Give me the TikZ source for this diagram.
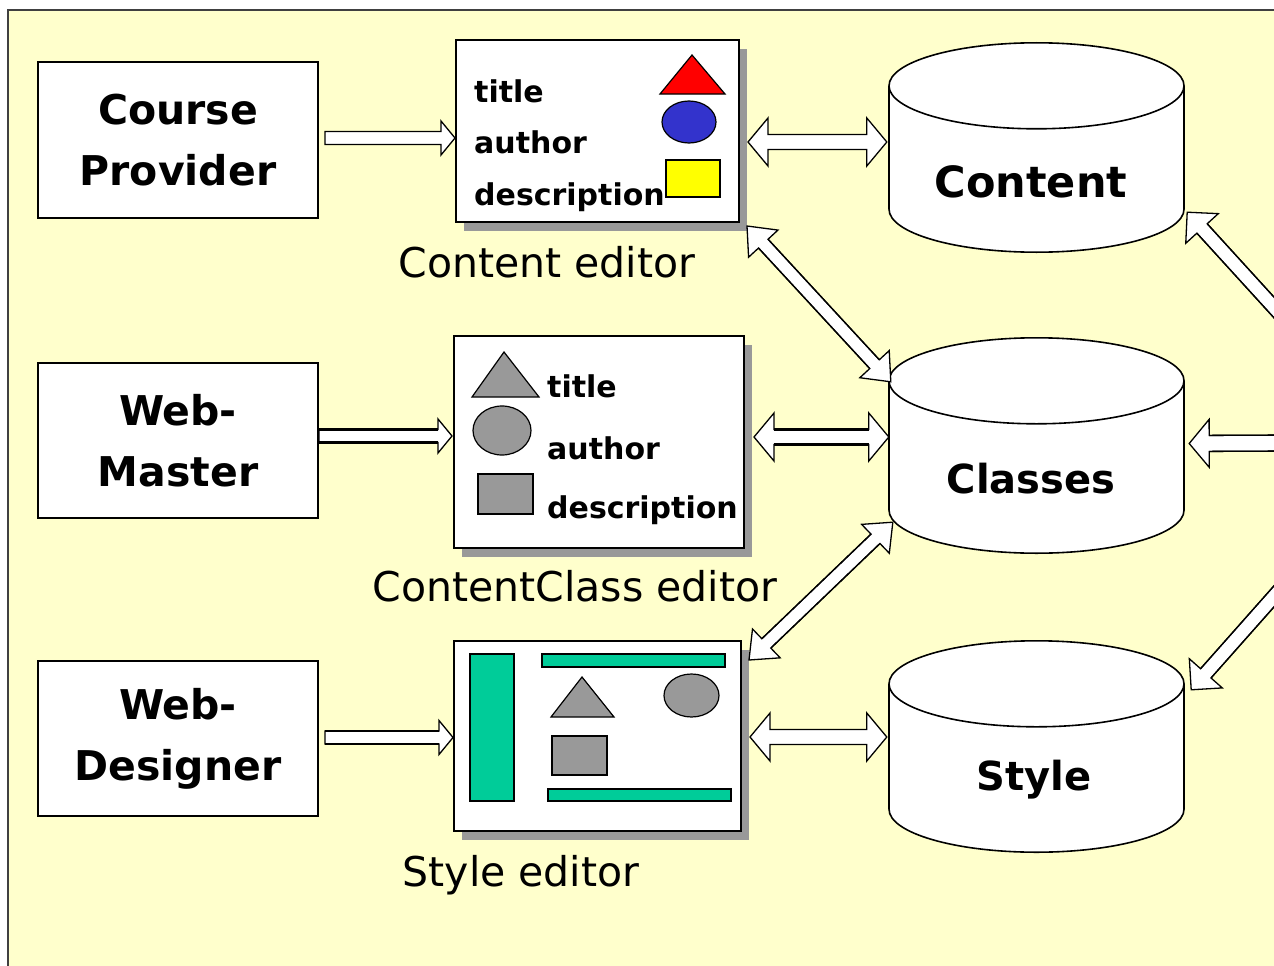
\documentclass[tikz,border=0pt]{standalone}
\usepackage{fontspec}
\setmainfont{DejaVu Sans}
\usetikzlibrary{calc,shadows}
\definecolor{bgyellow}{HTML}{FFFFCC}
\definecolor{shadowgray}{HTML}{999999}
\definecolor{shapegray}{HTML}{999999}
\definecolor{redtri}{HTML}{FF0000}
\definecolor{blueell}{HTML}{3333CC}
\definecolor{yellowrect}{HTML}{FFFF00}
\definecolor{greenbar}{HTML}{00CC99}
\definecolor{framegray}{HTML}{404040}

\newcommand\ash{7pt}\newcommand\ahh{20pt}\newcommand\ahl{20pt}
\newcommand\setarrow[3]{\def\ash{#1}\def\ahh{#2}\def\ahl{#3}}

\newcommand\singlearrow[3][]{%
  \coordinate (sa1) at (#2);
  \coordinate (sa2) at (#3);
  \coordinate (sam) at ($(sa2)!\ahl!(sa1)$);
  \draw[blk] ($(sa1)!\ash!90:(sa2)$) -- ($(sam)!\ash!-90:(sa1)$) -- ($(sam)!\ahh!-90:(sa1)$) -- (sa2) -- ($(sam)!\ahh!90:(sa1)$) -- ($(sam)!\ash!90:(sa1)$) -- ($(sa1)!\ash!-90:(sa2)$) -- cycle;
  \draw[shaft,#1] ($(sa1)!\ash!90:(sa2)$) -- ($(sam)!\ash!-90:(sa1)$);
  \draw[shaft,#1] ($(sa1)!\ash!-90:(sa2)$) -- ($(sam)!\ash!90:(sa1)$);
}

\newcommand\doublearrow[3][]{%
  \coordinate (da1) at (#2);
  \coordinate (da2) at (#3);
  \coordinate (dam) at ($(da1)!\ahl!(da2)$);
  \coordinate (dan) at ($(da2)!\ahl!(da1)$);
  \draw[blk] (da1) -- ($(dam)!\ahh!90:(da2)$) -- ($(dam)!\ash!90:(da2)$) -- ($(dan)!\ash!-90:(da1)$) -- ($(dan)!\ahh!-90:(da1)$) -- (da2) -- ($(dan)!\ahh!90:(da1)$) -- ($(dan)!\ash!90:(da1)$) -- ($(dam)!\ash!-90:(da2)$) -- ($(dam)!\ahh!-90:(da2)$) -- cycle;
  \draw[shaft,#1] ($(dam)!\ash!90:(da2)$) -- ($(dan)!\ash!-90:(da1)$);
  \draw[shaft,#1] ($(dam)!\ash!-90:(da2)$) -- ($(dan)!\ash!90:(da1)$);
}

\newcommand\dbcyl[2]{%
  \draw[cylline, fill=white] ($(#1.south)+(0,-#2)$) ellipse [x radius=147.5pt, y radius=#2pt];
  \fill[white] ($(#1.north west)+(0,#2)$) rectangle ($(#1.south east)+(0,-#2)$);
  \draw[cylline] ($(#1.north west)+(0,#2)$) -- ($(#1.south west)+(0,-#2)$);
  \draw[cylline] ($(#1.north east)+(0,#2)$) -- ($(#1.south east)+(0,-#2)$);
  \draw[cylline, fill=white] ($(#1.north)+(0,#2)$) ellipse [x radius=147.5pt, y radius=#2pt];
}

\tikzset{
  actor/.style={draw=black, line width=2pt, fill=white, minimum width=280pt, minimum height=155pt, inner sep=0pt, align=center, font=\fontsize{41}{61}\selectfont\bfseries},
  editor/.style={draw=black, line width=2pt, fill=white, inner sep=0pt, drop shadow={shadow xshift=8pt, shadow yshift=-9pt, fill=shadowgray, opacity=1}},
  dbbox/.style={rectangle, inner sep=0pt, minimum width=295pt},
  cylline/.style={draw=black, line width=1.6pt},
  blk/.style={draw=black, fill=white, line width=1.3pt, line join=miter},
  shaft/.style={draw=black, line width=1.3pt},
  field/.style={anchor=base west, inner sep=0pt, font=\fontsize{30}{30}\selectfont\bfseries},
  caption/.style={anchor=base, inner sep=0pt, font=\fontsize{41}{41}\selectfont},
  dblabel/.style={anchor=base, inner sep=0pt, font=\fontsize{40}{40}\selectfont\bfseries},
  shapeline/.style={draw=black, line width=1.2pt},
}

\begin{document}
\begin{tikzpicture}[x=1pt,y=-1pt]
\useasboundingbox (0,0) rectangle (1274,966);
\clip (0,0) rectangle (1274,966);
\fill[white] (0,0) rectangle (1274,966);
\draw[draw=framegray, line width=2pt, fill=bgyellow] (8,10) rectangle (1320,1010);

% actors
\node[actor] (cp) at (178,140) {Course\\Provider};
\node[actor] (wm) at (178,440.5) {Web-\\Master};
\node[actor] (wd) at (178,738.5) {Web-\\Designer};

% editors
\node[editor, minimum width=283pt, minimum height=182pt] (ce) at (597.5,131) {};
\node[editor, minimum width=290pt, minimum height=212pt] (cce) at (599,442) {};
\node[editor, minimum width=287pt, minimum height=190pt] (se) at (597.5,736) {};

% content editor contents
\node[field] (ce1) at (474,102) {title};
\node[field] (ce2) at (474,153) {author};
\node[field] (ce3) at (474,205) {description};
\draw[shapeline, fill=redtri] (692,55) -- (725,94) -- (660,94) -- cycle;
\draw[shapeline, fill=blueell] (689,122) ellipse [x radius=27pt, y radius=21pt];
\draw[shapeline, fill=yellowrect] (666,160) rectangle (720,197);

% contentclass editor contents
\draw[shapeline, fill=shapegray] (504,352) -- (539,397) -- (472,397) -- cycle;
\draw[shapeline, fill=shapegray] (502,430.5) ellipse [x radius=29pt, y radius=24.5pt];
\draw[shapeline, fill=shapegray] (478,474) rectangle (533,514);
\node[field] (cc1) at (547,397) {title};
\node[field] (cc2) at (547,459) {author};
\node[field] (cc3) at (547,518) {description};

% style editor contents
\draw[shapeline, fill=greenbar] (470,654) rectangle (514,801);
\draw[shapeline, fill=greenbar] (542,654) rectangle (725,667);
\draw[shapeline, fill=greenbar] (548,789) rectangle (731,801);
\draw[shapeline, fill=shapegray] (582,677) -- (614,717) -- (551,717) -- cycle;
\draw[shapeline, fill=shapegray] (691.5,695.5) ellipse [x radius=27.5pt, y radius=21.5pt];
\draw[shapeline, fill=shapegray] (552,736) rectangle (607,775);

% captions
\node[caption] (cel) at (547,277) {Content editor};
\node[caption] (ccel) at (575,601) {ContentClass editor};
\node[caption] (sel) at (521,886) {Style editor};

% databases
\node[dbbox, minimum height=209pt] (cont) at (1036.5,147.5) {};
\node[dbbox, minimum height=215pt] (cls) at (1036.5,445.5) {};
\node[dbbox, minimum height=211pt] (sty) at (1036.5,746.5) {};
\dbcyl{cont}{43}
\dbcyl{cls}{43}
\dbcyl{sty}{43}
\node[dblabel, font=\fontsize{43}{43}\selectfont\bfseries] (contl) at (1031,197) {Content};
\node[dblabel] (clsl) at (1031,493) {Classes};
\node[dblabel] (styl) at (1034,790) {Style};

% arrows from actors
\setarrow{6.5pt}{17pt}{14pt}
\singlearrow{$(cp.east)+(6,-2)$}{$(ce.west)+(0,7)$}
\singlearrow[line width=3pt]{$(wm.east)+(0,-4.5)$}{$(cce.west)+(-1,-6)$}
\singlearrow{$(wd.east)+(6,-1)$}{$(se.west)+(0,1.5)$}

% horizontal double arrows
\setarrow{7.5pt}{24pt}{20pt}
\doublearrow{$(ce.east)+(8,11)$}{$(cont.west)+(-2,-5.5)$}
\doublearrow[line width=3pt]{$(cce.east)+(9,-5)$}{$(cls.west)+(0,-8.5)$}
\doublearrow{$(se.east)+(8,1)$}{$(sty.west)+(-2,-9.5)$}

% diagonal double arrows
\setarrow{6.5pt}{20pt}{24pt}
\doublearrow{$(ce.south east)+(7,3)$}{$(cls.north west)+(2,44)$}
\doublearrow{$(cls.south west)+(4,-31)$}{$(se.north east)+(7,20)$}

% arrows from the right
\coordinate (rin1) at (1300,336);
\coordinate (rin2) at (1300,443);
\coordinate (rin3) at (1300,567);
\setarrow{7pt}{22pt}{22pt}
\singlearrow{rin1}{$(cont.south east)+(3,-40)$}
\singlearrow{rin3}{$(sty.north east)+(7,49)$}
\setarrow{8pt}{24pt}{20pt}
\singlearrow{rin2}{$(cls.east)+(5,-2)$}
\end{tikzpicture}
\end{document}
